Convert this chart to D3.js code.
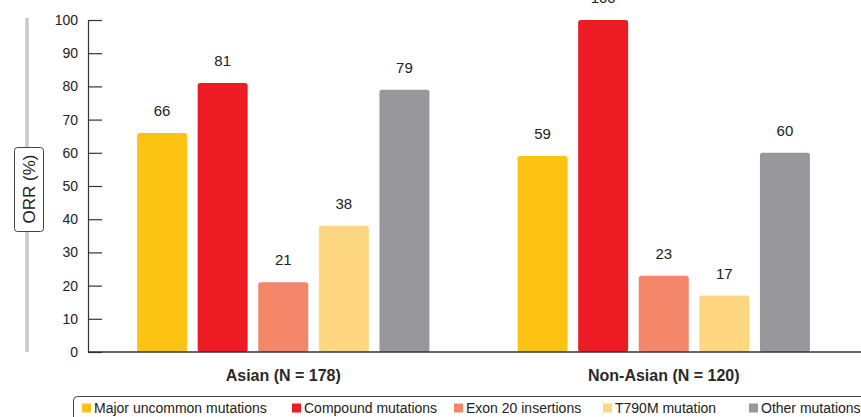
<!DOCTYPE html>
<html><head><meta charset="utf-8">
<script src="https://cdn.jsdelivr.net/npm/d3@7"></script>
<style>body{margin:0;background:#fff}svg{display:block;font-family:"Liberation Sans",Arial,sans-serif}</style>
</head><body><svg id="c" width="861" height="417"></svg>
<script>
const groups = ["Asian (N = 178)", "Non-Asian (N = 120)"];
const series = ["Major uncommon mutations", "Compound mutations", "Exon 20 insertions", "T790M mutation", "Other mutations"];
const asianValues = [66, 81, 21, 38, 79];
const nonAsianValues = [59, 100, 23, 17, 60];
const yTicks = [0, 10, 20, 30, 40, 50, 60, 70, 80, 90, 100];
const colors = ["#FDC313", "#ED1C24", "#F4866A", "#FED780", "#98989C"];
const yLabel = "ORR (%)";

const valuesByGroup = [asianValues, nonAsianValues];
const svg = d3.select("#c");
const y = d3.scaleLinear().domain([0, 100]).range([352, 20]);
const x0 = d3.scaleBand().domain(groups).range([93, 854]).padding(0);
const x1 = d3.scaleBand().domain(series).range([0, x0.bandwidth()]).paddingInner(0.175).paddingOuter(0.727);
const color = d3.scaleOrdinal().domain(series).range(colors);

// y-axis label decoration
svg.append("line").attr("x1", 27).attr("x2", 27).attr("y1", 18).attr("y2", 352)
  .attr("stroke", "#c8c8c8").attr("stroke-width", 3.5);
svg.append("rect").attr("x", 14.5).attr("y", 147.5).attr("width", 29).attr("height", 84)
  .attr("rx", 3).attr("fill", "#fff").attr("stroke", "#444").attr("stroke-width", 1);
svg.append("text").attr("transform", "translate(35,189) rotate(-90)").attr("text-anchor", "middle")
  .attr("font-size", 17).attr("fill", "#222").text(yLabel);

// y axis
const yAxis = svg.append("g").attr("transform", "translate(88,0)")
  .call(d3.axisRight(y).tickValues(yTicks).tickSize(14).tickSizeOuter(0));
yAxis.select(".domain").attr("stroke", "#333").attr("stroke-width", 1.2);
yAxis.selectAll(".tick line").attr("stroke", "#333").attr("stroke-width", 1.2);
yAxis.selectAll(".tick text").attr("x", -10).attr("text-anchor", "end")
  .attr("font-size", 14).attr("fill", "#222").attr("font-family", "Liberation Sans, Arial, sans-serif");

// bars
const g = svg.selectAll("g.grp").data(groups).join("g").attr("class", "grp")
  .attr("transform", d => `translate(${x0(d)},0)`);
g.selectAll("rect").data((d, i) => series.map((s, j) => ({s, v: valuesByGroup[i][j]})))
  .join("rect")
  .attr("x", d => x1(d.s)).attr("width", x1.bandwidth())
  .attr("y", d => y(d.v)).attr("height", d => y(0) - y(d.v))
  .attr("rx", 2.5).attr("fill", d => color(d.s));
g.selectAll("text.val").data((d, i) => series.map((s, j) => ({s, v: valuesByGroup[i][j]})))
  .join("text").attr("class", "val")
  .attr("x", d => x1(d.s) + x1.bandwidth() / 2).attr("y", d => y(d.v) - 17)
  .attr("text-anchor", "middle").attr("font-size", 15).attr("fill", "#222").text(d => d.v);
g.append("text").attr("x", x0.bandwidth() / 2).attr("y", 381).attr("text-anchor", "middle")
  .attr("font-size", 16).attr("font-weight", "bold").attr("fill", "#2a2a2a").text(d => d);

// baseline
svg.append("line").attr("x1", 88).attr("x2", 861).attr("y1", y(0)).attr("y2", y(0))
  .attr("stroke", "#333").attr("stroke-width", 1.5);

// legend
svg.append("rect").attr("x", 73.5).attr("y", 396.5).attr("width", 800).attr("height", 30)
  .attr("rx", 4).attr("fill", "#fff").attr("stroke", "#444");
const legendX = [82, 292, 454, 603, 749];
const lg = svg.selectAll("g.leg").data(series).join("g").attr("class", "leg")
  .attr("transform", (d, i) => `translate(${legendX[i]},403.5)`);
lg.append("rect").attr("width", 9).attr("height", 9).attr("fill", d => color(d));
lg.append("text").attr("x", 12).attr("y", 9.5).attr("font-size", 14).attr("fill", "#222").text(d => d);
</script></body></html>
